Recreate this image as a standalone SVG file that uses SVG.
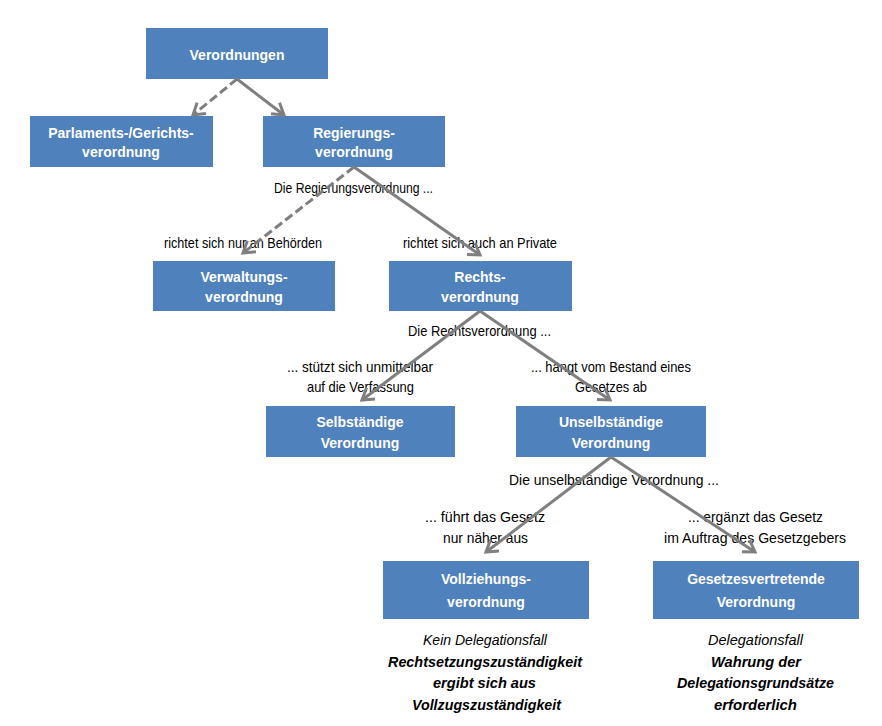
<svg xmlns="http://www.w3.org/2000/svg" width="882" height="726" viewBox="0 0 882 726">
<style>
.box{fill:#4f81bd;}
.bt{font-family:"Liberation Sans",Arial,sans-serif;font-weight:bold;font-size:14px;fill:#ffffff;text-anchor:middle;}
.lb{font-family:"Liberation Sans",Arial,sans-serif;font-size:15px;fill:#000000;}
.it{font-family:"Liberation Sans",Arial,sans-serif;font-size:15px;font-style:italic;fill:#000000;}
.bi{font-family:"Liberation Sans",Arial,sans-serif;font-size:15px;font-style:italic;font-weight:bold;fill:#000000;}
.con{stroke:#7f7f7f;stroke-width:3;fill:none;marker-end:url(#arr);}
.dash{stroke-dasharray:9 4;}
</style>
<defs>
<marker id="arr" markerUnits="userSpaceOnUse" markerWidth="20" markerHeight="20" viewBox="-14 -10 20 20" refX="0" refY="0" orient="auto">
<path d="M-11,-7 L0,0 L-11,7" fill="none" stroke="#7f7f7f" stroke-width="3"/>
</marker>
</defs>
<rect width="882" height="726" fill="#ffffff"/>

<g id="labels">
<text class="lb" x="274" y="193" textLength="159" lengthAdjust="spacingAndGlyphs">Die Regierungsverordnung ...</text>
<text class="lb" x="164" y="248" textLength="158" lengthAdjust="spacingAndGlyphs">richtet sich nur an Behörden</text>
<text class="lb" x="403" y="248" textLength="154" lengthAdjust="spacingAndGlyphs">richtet sich auch an Private</text>
<text class="lb" x="408" y="336" textLength="143" lengthAdjust="spacingAndGlyphs">Die Rechtsverordnung ...</text>
<text class="lb" x="287" y="372" textLength="146" lengthAdjust="spacingAndGlyphs">... stützt sich unmittelbar</text>
<text class="lb" x="307" y="392" textLength="107" lengthAdjust="spacingAndGlyphs">auf die Verfassung</text>
<text class="lb" x="531" y="372" textLength="160" lengthAdjust="spacingAndGlyphs">... hängt vom Bestand eines</text>
<text class="lb" x="575" y="392" textLength="72" lengthAdjust="spacingAndGlyphs">Gesetzes ab</text>
<text class="lb" x="509" y="485" textLength="210" lengthAdjust="spacingAndGlyphs">Die unselbständige Verordnung ...</text>
<text class="lb" x="425" y="522" textLength="120" lengthAdjust="spacingAndGlyphs">... führt das Gesetz</text>
<text class="lb" x="443" y="543" textLength="85" lengthAdjust="spacingAndGlyphs">nur näher aus</text>
<text class="lb" x="688" y="522" textLength="135" lengthAdjust="spacingAndGlyphs">... ergänzt das Gesetz</text>
<text class="lb" x="664" y="543" textLength="182" lengthAdjust="spacingAndGlyphs">im Auftrag des Gesetzgebers</text>
<text class="it" x="423" y="645" textLength="124" lengthAdjust="spacingAndGlyphs">Kein Delegationsfall</text>
<text class="bi" x="388" y="667" textLength="194" lengthAdjust="spacingAndGlyphs">Rechtsetzungszuständigkeit</text>
<text class="bi" x="433" y="688" textLength="103" lengthAdjust="spacingAndGlyphs">ergibt sich aus</text>
<text class="bi" x="412" y="710" textLength="149" lengthAdjust="spacingAndGlyphs">Vollzugszuständigkeit</text>
<text class="it" x="708" y="645" textLength="95" lengthAdjust="spacingAndGlyphs">Delegationsfall</text>
<text class="bi" x="711" y="667" textLength="90" lengthAdjust="spacingAndGlyphs">Wahrung der</text>
<text class="bi" x="677" y="688" textLength="157" lengthAdjust="spacingAndGlyphs">Delegationsgrundsätze</text>
<text class="bi" x="714" y="710" textLength="83" lengthAdjust="spacingAndGlyphs">erforderlich</text>
</g>

<g id="n-verordnungen">
<rect class="box" x="146" y="28" width="182" height="51"/>
<text class="bt" x="237" y="60">Verordnungen</text>
</g>
<g id="n-parlament">
<rect class="box" x="30" y="116" width="183" height="51"/>
<text class="bt" x="121" y="138">Parlaments-/Gerichts-</text>
<text class="bt" x="121" y="157">verordnung</text>
</g>
<g id="n-regierung">
<rect class="box" x="263" y="116" width="182" height="51"/>
<text class="bt" x="354" y="138">Regierungs-</text>
<text class="bt" x="354" y="157">verordnung</text>
</g>
<g id="n-verwaltung">
<rect class="box" x="153" y="261" width="182" height="50"/>
<text class="bt" x="244" y="282">Verwaltungs-</text>
<text class="bt" x="244" y="302">verordnung</text>
</g>
<g id="n-rechts">
<rect class="box" x="389" y="261" width="183" height="50"/>
<text class="bt" x="480" y="282">Rechts-</text>
<text class="bt" x="480" y="302">verordnung</text>
</g>
<g id="n-selbst">
<rect class="box" x="266" y="406" width="189" height="51"/>
<text class="bt" x="360" y="427">Selbständige</text>
<text class="bt" x="360" y="448">Verordnung</text>
</g>
<g id="n-unselbst">
<rect class="box" x="516" y="406" width="190" height="51"/>
<text class="bt" x="611" y="427">Unselbständige</text>
<text class="bt" x="611" y="448">Verordnung</text>
</g>
<g id="n-vollziehung">
<rect class="box" x="383" y="561" width="206" height="58"/>
<text class="bt" x="486" y="584">Vollziehungs-</text>
<text class="bt" x="486" y="607">verordnung</text>
</g>
<g id="n-gesetzesvertretend">
<rect class="box" x="653" y="561" width="206" height="58"/>
<text class="bt" x="756" y="584">Gesetzesvertretende</text>
<text class="bt" x="756" y="607">Verordnung</text>
</g>

<g id="connectors">
<line class="con dash" x1="237" y1="79" x2="193" y2="115"/>
<line class="con" x1="237" y1="79" x2="284" y2="115"/>
<line class="con dash" x1="354" y1="167" x2="243" y2="253"/>
<line class="con" x1="354" y1="167" x2="480" y2="255"/>
<line class="con" x1="480" y1="311" x2="362" y2="400"/>
<line class="con" x1="480" y1="311" x2="610" y2="400"/>
<line class="con" x1="611" y1="457" x2="486" y2="552"/>
<line class="con" x1="611" y1="457" x2="755" y2="552"/>
</g>
</svg>
